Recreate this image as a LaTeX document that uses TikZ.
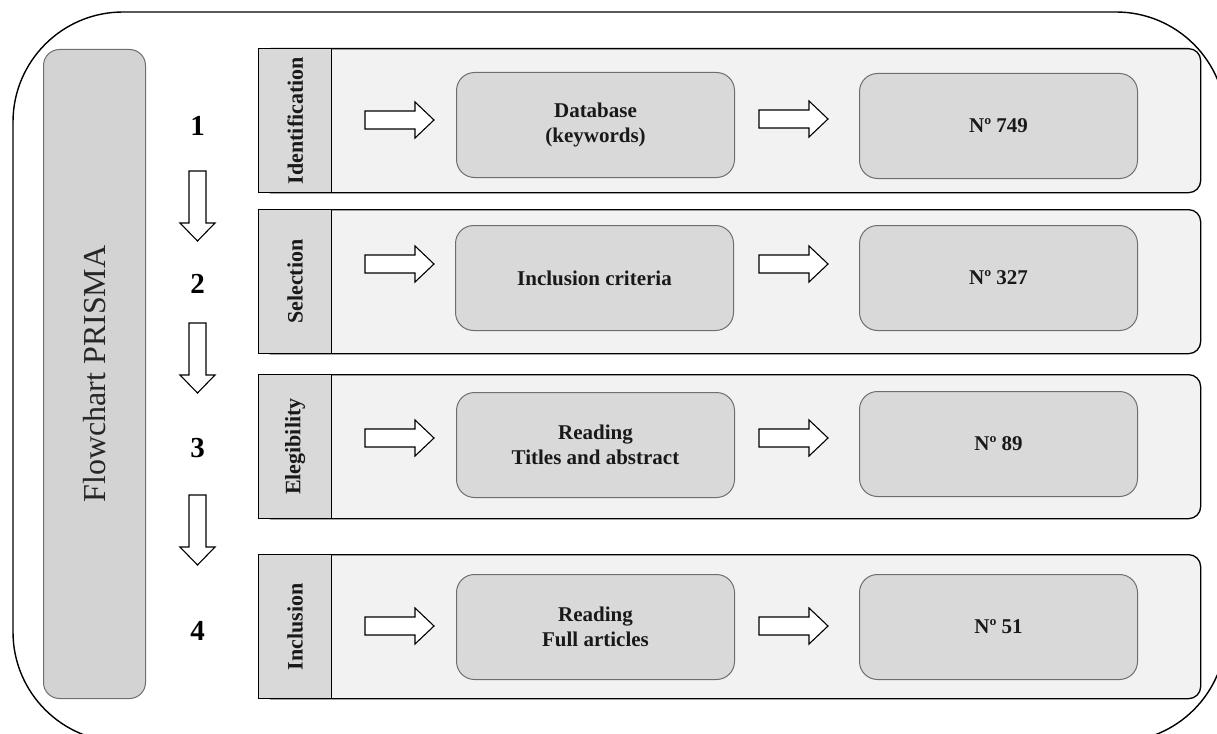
\documentclass[tikz,border=0pt]{standalone}
\usepackage{fontspec}
\setmainfont{Liberation Serif}
\definecolor{panelfill}{HTML}{F2F2F2}
\definecolor{labfill}{HTML}{D9D9D9}
\definecolor{sidefill}{HTML}{D3D3D3}
\definecolor{boxdraw}{HTML}{6E6E6E}
\begin{document}
\begin{tikzpicture}[x=1pt,y=-1pt,
  outerframe/.style={draw, line width=1.4pt, rounded corners=110pt},
  sidebox/.style={draw=boxdraw, line width=1pt, fill=sidefill, rounded corners=16pt, anchor=north west, inner sep=0pt,
     minimum width=102pt, minimum height=649pt},
  sidetext/.style={rotate=90, font=\fontsize{32}{36}\selectfont, text=black!85},
  panel/.style={draw, line width=1.3pt, fill=panelfill, rounded corners=12pt, anchor=north west, inner sep=0pt,
     minimum width=942pt, minimum height=144pt},
  labcol/.style={draw, line width=1.3pt, fill=labfill, anchor=north west, inner sep=0pt,
     minimum width=73pt, minimum height=144pt},
  labtext/.style={rotate=90, font=\bfseries\fontsize{22}{26}\selectfont, text=black!90},
  stepbox/.style={draw=boxdraw, line width=1pt, fill=labfill, rounded corners=18pt, anchor=north west, inner sep=0pt,
     minimum width=278pt, minimum height=105pt, align=center, font=\bfseries\fontsize{21}{25}\selectfont, text=black!90},
  num/.style={font=\bfseries\fontsize{29}{32}\selectfont},
  blockarrow/.style={draw, line width=1.1pt, fill=white, line join=miter},
  rarr/.pic={\draw[blockarrow] (0,-9) -- (50,-9) -- (50,-18) -- (69,0) -- (50,18) -- (50,9) -- (0,9) -- cycle;},
  darr/.pic={\draw[blockarrow] (-8.5,0) -- (8.5,0) -- (8.5,52) -- (17.5,52) -- (0,70) -- (-17.5,52) -- (-8.5,52) -- cycle;}
]
\useasboundingbox (0,0) rectangle (1217,733);
\begin{scope}
  \clip (0,0) rectangle (1217,733);
  \draw[outerframe] (13,12) rectangle (1226,742);
\end{scope}

% left side box
\node[sidebox] (side) at (43,49) {};
\node[sidetext] (sidelabel) at (side.center) {Flowchart PRISMA};

% numbers
\node[num] (n1) at (197.5,126) {1};
\node[num] (n2) at (197.5,284) {2};
\node[num] (n3) at (197.5,448) {3};
\node[num] (n4) at (197.5,631) {4};

% down arrows
\pic (d1) at (197.5,171) {darr};
\pic (d2) at (197.5,323) {darr};
\pic (d3) at (197.5,495) {darr};

% row 1
\node[panel] (p1) at (258,48) {};
\node[labcol] (l1) at (258,48) {};
\node[labtext] (t1) at (l1.center) {Identification};
\node[stepbox] (a1) at (456,72) {Database\\(keywords)};
\node[stepbox] (b1) at (859,73) {Nº 749};
\pic (r1a) at (365,120) {rarr};
\pic (r1b) at (759,119) {rarr};

% row 2
\node[panel] (p2) at (258,209) {};
\node[labcol] (l2) at (258,209) {};
\node[labtext] (t2) at (l2.center) {Selection};
\node[stepbox] (a2) at (455,225) {Inclusion criteria};
\node[stepbox] (b2) at (859,225) {Nº 327};
\pic (r2a) at (365,264) {rarr};
\pic (r2b) at (759,264) {rarr};

% row 3
\node[panel] (p3) at (258,374) {};
\node[labcol] (l3) at (258,374) {};
\node[labtext] (t3) at (l3.center) {Elegibility};
\node[stepbox] (a3) at (456,392) {Reading\\Titles and abstract};
\node[stepbox] (b3) at (859,391) {Nº 89};
\pic (r3a) at (365,438) {rarr};
\pic (r3b) at (759,438) {rarr};

% row 4
\node[panel] (p4) at (258,554) {};
\node[labcol] (l4) at (258,554) {};
\node[labtext] (t4) at (l4.center) {Inclusion};
\node[stepbox] (a4) at (456,574) {Reading\\Full articles};
\node[stepbox] (b4) at (859,574) {Nº 51};
\pic (r4a) at (365,626) {rarr};
\pic (r4b) at (759,626) {rarr};
\end{tikzpicture}
\end{document}
